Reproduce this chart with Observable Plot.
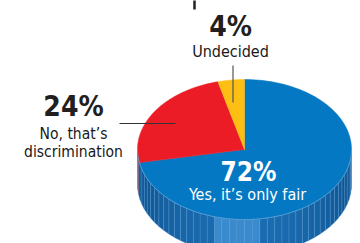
<!DOCTYPE html>
<html><head><meta charset="utf-8">
<script src="https://cdn.jsdelivr.net/npm/d3@7"></script>
<script src="https://cdn.jsdelivr.net/npm/@observablehq/plot@0.6"></script>
<style>
html,body{margin:0;padding:0;background:#fff;overflow:hidden;}
#chart svg{display:block;}
</style></head>
<body><div id="chart"></div>
<script>
// ---- data ----
const categories = ["Yes, it’s only fair", "No, that’s\ndiscrimination", "Undecided"];
const values = [72, 24, 4];
const pctLabels = ["72%", "24%", "4%"];

// ---- layout / style ----
const W = 360, H = 243;
const cx = 244, cy = 149, rx = 107, ry = 70, depth = 35;
const topColors = ["#0478c2", "#ec1c26", "#fdbf13"];
const sideColors = ["#1466aa", "#8e1018", "#b38400"];
const font = "'Liberation Sans Narrow','DejaVu Sans Condensed','Roboto Condensed',sans-serif";

const arcs = d3.pie().sort(null)(values);
const pt = (a, dy = 0) => ({x: cx + rx * Math.sin(a), y: cy - ry * Math.cos(a) + dy});

// top-face slice polygons
const slicePolys = arcs.map((a, i) => {
  const pts = [{x: cx, y: cy}];
  const n = Math.max(4, Math.ceil((a.endAngle - a.startAngle) / (Math.PI / 180)));
  for (let k = 0; k <= n; k++) pts.push(pt(a.startAngle + (a.endAngle - a.startAngle) * k / n));
  pts.push({x: cx, y: cy});
  return {i, pts};
});

// side facets (visible front half: angle PI/2 .. 3PI/2)
const facets = [];
const nF = 44;
for (let k = 0; k < nF; k++) {
  const a0 = Math.PI / 2 + Math.PI * k / nF, a1 = Math.PI / 2 + Math.PI * (k + 1) / nF;
  const am = (a0 + a1) / 2;
  const si = arcs.findIndex(a => am >= a.startAngle && am < a.endAngle);
  const pts = [];
  const m = 3;
  for (let j = 0; j <= m; j++) pts.push(pt(a0 + (a1 - a0) * j / m));
  for (let j = m; j >= 0; j--) pts.push(pt(a0 + (a1 - a0) * j / m, depth));
  pts.push(pts[0]);
  const deg = am * 180 / Math.PI;
  const shade = Math.abs(Math.cos(am)); // 1 at front
  let col;
  if (si === 0) {
    col = d3.interpolateRgb("#0a4a82", "#1a6cb0")(shade);
    if (deg > 170 && deg < 197) col = "#3a8bcd";
  } else col = sideColors[si];
  facets.push({pts, col});
}
const frontEdge = d3.range(0, 181, 2).map(d => pt(Math.PI / 2 + d * Math.PI / 180));

const marks = [];
facets.forEach(f => marks.push(Plot.line(f.pts, {x: "x", y: "y", fill: f.col, stroke: "#4d92cf", strokeWidth: 0.5, strokeOpacity: 0.7})));
slicePolys.forEach(s => marks.push(Plot.line(s.pts, {x: "x", y: "y", fill: topColors[s.i], stroke: topColors[s.i], strokeWidth: 0.5})));
marks.push(Plot.line(frontEdge, {x: "x", y: "y", stroke: "#5fa2d8", strokeWidth: 0.8}));

// leader lines
marks.push(Plot.link([{x1: 119, y1: 123, x2: 175, y2: 123}], {x1: "x1", y1: "y1", x2: "x2", y2: "y2", stroke: "#333", strokeWidth: 1}));
marks.push(Plot.link([{x1: 232.5, y1: 65, x2: 232.5, y2: 102}], {x1: "x1", y1: "y1", x2: "x2", y2: "y2", stroke: "#555", strokeWidth: 1.2}));
// cut-off title descender
marks.push(Plot.link([{x1: 194, y1: 0, x2: 194, y2: 9}], {x1: "x1", y1: "y1", x2: "x2", y2: "y2", stroke: "#222", strokeWidth: 2.5}));

// labels
const lab = (txt, x, y, size, weight, fill, lh = 1) => Plot.text([txt], {x: () => x, y: () => y, text: d => d, fontSize: size, fontWeight: weight, fill, fontFamily: font, textAnchor: "middle", lineAnchor: "middle", lineHeight: lh});
marks.push(lab(pctLabels[2], 230, 26.5, 28, 900, "#231f20"));
marks.push(lab(categories[2], 230, 51.5, 16, 500, "#1a1718"));
marks.push(lab(pctLabels[1], 73, 106.5, 28, 900, "#231f20"));
marks.push(lab(categories[1], 73, 141.6, 15.5, 500, "#1a1718", 1.17));
marks.push(lab(pctLabels[0], 248, 172, 26, 900, "#fff"));
marks.push(lab(categories[0], 247, 194.5, 16, 500, "#fff"));

const chart = Plot.plot({
  width: W, height: H, margin: 0,
  x: {domain: [0, W], range: [0, W], axis: null},
  y: {domain: [0, H], range: [0, H], axis: null},
  style: {background: "#fff", overflow: "hidden"},
  marks
});
document.getElementById("chart").append(chart);
</script></body></html>
